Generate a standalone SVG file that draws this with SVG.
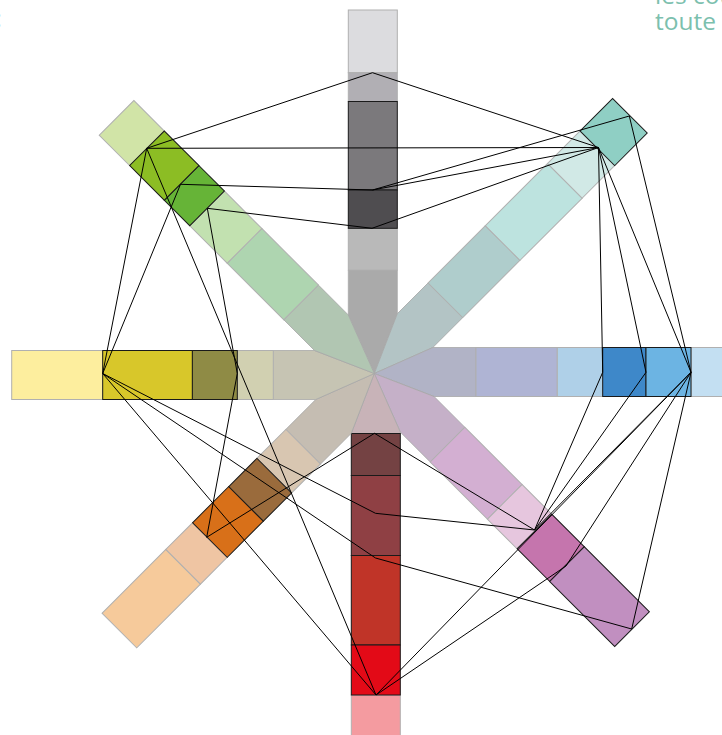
<svg xmlns="http://www.w3.org/2000/svg" width="722" height="735" viewBox="0 0 722 735">
<style>
.g{stroke:#b0b0b0;stroke-width:1}
.k{stroke:#1a1a1a;stroke-width:1}
.w{stroke:#a8a8a8;stroke-width:0.8}
#connectors line{stroke:#000;stroke-width:1}
text{font-family:"Open Sans","Noto Sans",sans-serif;font-size:24.5px}
</style>
<rect width="722" height="735" fill="#fff"/>
<text x="655" y="4" fill="#7cc0ae">les cou</text>
<text x="655" y="30" fill="#7cc0ae">toute</text>
<text x="-4.5" y="27" fill="#8db92e" style="font-size:24px">:</text>

<g id="arm-top">
<polygon class="w" fill="#aaaaaa" points="348.3,270 397.3,270 397.3,313.73 374.3,373.5 348.3,314.97"/>
<rect class="g" fill="#b9b9b9" x="348.3" y="228.3" width="49" height="41.7"/>
<rect class="g" fill="#dcdcdf" x="348.3" y="10" width="49" height="62.7"/>
<rect class="g" fill="#b1afb4" x="348.3" y="72.7" width="49" height="28.8"/>
<rect class="k" fill="#7b797c" x="348.3" y="101.5" width="49" height="88.5"/>
<rect class="k" fill="#4f4d50" x="348.3" y="190" width="49" height="38.3"/>
</g>

<g id="arm-teal" transform="rotate(45 374.3 373.5)">
<polygon class="w" fill="#b3c4c5" points="348.3,271.5 397.3,271.5 397.3,313.73 374.3,373.5 348.3,314.97"/>
<rect class="g" fill="#afcdcc" x="348.3" y="190.5" width="49" height="81"/>
<rect class="g" fill="#bde3df" x="348.3" y="102.5" width="49" height="88"/>
<rect class="g" fill="#d1e9e6" x="348.3" y="56.5" width="49" height="46"/>
<rect class="k" fill="#8fcfc4" x="348.3" y="10.5" width="49" height="46"/>
</g>

<g id="arm-blue" transform="rotate(90 374.3 373.5)">
<polygon class="w" fill="#b1b3c6" points="348.3,271.8 397.3,271.8 397.3,313.73 374.3,373.5 348.3,314.97"/>
<rect class="g" fill="#afb4d4" x="348.3" y="190.5" width="49" height="81.3"/>
<rect class="g" fill="#afd0e8" x="348.3" y="145.1" width="49" height="45.4"/>
<rect class="g" fill="#c3dff2" x="348.3" y="10.5" width="49" height="46.3"/>
<rect class="k" fill="#3e88c9" x="348.3" y="101.8" width="49" height="43.3"/>
<rect class="k" fill="#6cb4e3" x="348.3" y="56.8" width="49" height="45"/>
</g>

<g id="arm-magenta" transform="rotate(135 374.3 373.5)">
<polygon class="w" fill="#c5b0c8" points="348.3,271.5 397.3,271.5 397.3,313.73 374.3,373.5 348.3,314.97"/>
<rect class="g" fill="#d3afd2" x="348.3" y="190.5" width="49" height="81"/>
<rect class="g" fill="#e6c6de" x="348.3" y="148.5" width="49" height="42"/>
<rect class="k" fill="#c575ad" x="348.3" y="102.5" width="49" height="46"/>
<rect class="k" fill="#c18fc0" x="348.3" y="10.5" width="49" height="92"/>
</g>

<g id="arm-red" transform="rotate(180 374.3 373.5)">
<polygon class="w" fill="#c8b3b8" points="348.3,313.5 397.3,313.5 397.3,313.73 374.3,373.5 348.3,314.97"/>
<rect class="g" fill="#f49ba0" x="348.3" y="7.5" width="49" height="44.5"/>
<rect class="k" fill="#744243" x="348.3" y="271.5" width="49" height="42"/>
<rect class="k" fill="#8f4044" x="348.3" y="191.5" width="49" height="80"/>
<rect class="k" fill="#c03428" x="348.3" y="102" width="49" height="89.5"/>
<rect class="k" fill="#e30a17" x="348.3" y="52" width="49" height="50"/>
</g>

<g id="arm-orange" transform="rotate(225 374.3 373.5)">
<polygon class="w" fill="#c5bdb2" points="348.3,271.5 397.3,271.5 397.3,313.73 374.3,373.5 348.3,314.97"/>
<rect class="g" fill="#d8c6b1" x="348.3" y="230.5" width="49" height="41"/>
<rect class="g" fill="#efc5a3" x="348.3" y="101.5" width="49" height="38"/>
<rect class="g" fill="#f6ca9b" x="348.3" y="11.5" width="49" height="90"/>
<rect class="k" fill="#9a6b3c" x="348.3" y="190.5" width="49" height="40"/>
<rect class="k" fill="#d87019" x="348.3" y="139.5" width="49" height="51"/>
</g>

<g id="arm-yellow" transform="rotate(270 374.3 373.5)">
<polygon class="w" fill="#c6c4b3" points="348.3,272.5 397.3,272.5 397.3,313.73 374.3,373.5 348.3,314.97"/>
<rect class="g" fill="#d1d0b1" x="348.3" y="236.5" width="49" height="36"/>
<rect class="g" fill="#fdee9e" x="348.3" y="10.9" width="49" height="91"/>
<rect class="k" fill="#8f8b45" x="348.3" y="191.5" width="49" height="45"/>
<rect class="k" fill="#d8c72a" x="348.3" y="101.9" width="49" height="89.6"/>
</g>

<g id="arm-green" transform="rotate(315 374.3 373.5)">
<polygon class="w" fill="#b1c6b2" points="348.3,271.5 397.3,271.5 397.3,313.73 374.3,373.5 348.3,314.97"/>
<rect class="g" fill="#aed5b0" x="348.3" y="191.5" width="49" height="80"/>
<rect class="g" fill="#c2e1b0" x="348.3" y="138.5" width="49" height="53"/>
<rect class="g" fill="#d1e4a7" x="348.3" y="10.5" width="49" height="43"/>
<rect class="k" fill="#66b437" x="348.3" y="102.5" width="49" height="36"/>
<rect class="k" fill="#8cbd24" x="348.3" y="53.5" width="49" height="49"/>
</g>

<g id="connectors">
<line x1="372.5" y1="72.7" x2="146.7" y2="148.3"/>
<line x1="372.5" y1="72.7" x2="598.5" y2="147.5"/>
<line x1="146.7" y1="148.3" x2="598.5" y2="147.5"/>
<line x1="372.5" y1="190" x2="180.5" y2="184.3"/>
<line x1="372.5" y1="190" x2="598.5" y2="147.5"/>
<line x1="372.5" y1="190" x2="629.3" y2="116"/>
<line x1="372" y1="228.3" x2="207.3" y2="208.3"/>
<line x1="372" y1="228.3" x2="598.5" y2="147.5"/>
<line x1="146.7" y1="148.3" x2="102.7" y2="373.5"/>
<line x1="180.5" y1="184.3" x2="102.7" y2="373.5"/>
<line x1="146.7" y1="148.3" x2="376" y2="695"/>
<line x1="207.3" y1="208.3" x2="237.3" y2="373.5"/>
<line x1="237.3" y1="373.5" x2="206.7" y2="537.3"/>
<line x1="206.7" y1="537.3" x2="374.5" y2="433.3"/>
<line x1="374.5" y1="433.3" x2="534.5" y2="530"/>
<line x1="102.7" y1="373.5" x2="375.5" y2="513.3"/>
<line x1="375.5" y1="513.3" x2="534.5" y2="530"/>
<line x1="102.7" y1="373.5" x2="375.5" y2="558"/>
<line x1="375.5" y1="558" x2="631.7" y2="629"/>
<line x1="102.7" y1="373.5" x2="376" y2="695"/>
<line x1="376" y1="695" x2="691" y2="372.3"/>
<line x1="376" y1="695" x2="566" y2="566"/>
<line x1="566" y1="566" x2="691" y2="372.3"/>
<line x1="534.5" y1="530" x2="602.7" y2="372.3"/>
<line x1="534.5" y1="530" x2="646" y2="372.3"/>
<line x1="534.5" y1="530" x2="691" y2="372.3"/>
<line x1="631.7" y1="629" x2="691" y2="372.3"/>
<line x1="598.5" y1="147.5" x2="602.7" y2="372.3"/>
<line x1="598.5" y1="147.5" x2="646" y2="372.3"/>
<line x1="598.5" y1="147.5" x2="691" y2="372.3"/>
<line x1="629.3" y1="116" x2="691" y2="372.3"/>
</g>
</svg>
